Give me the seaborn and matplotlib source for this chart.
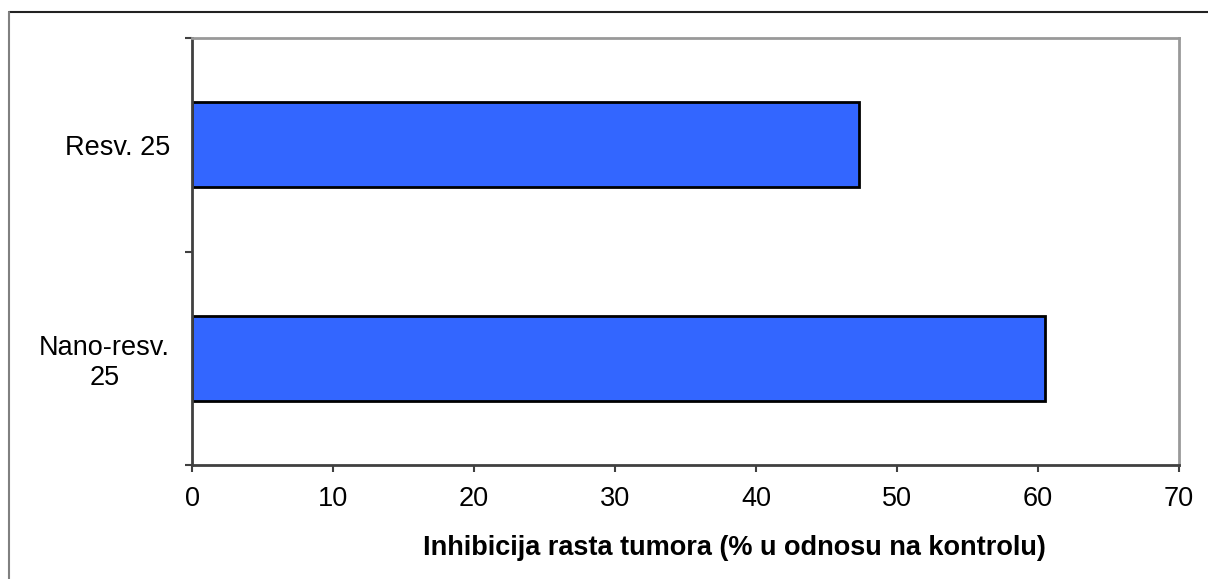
import matplotlib
matplotlib.use("Agg")
import matplotlib.pyplot as plt
import seaborn as sns
import pandas as pd
from matplotlib.lines import Line2D

categories = ["Resv. 25", "Nano-resv.\n25"]
values = [47.3, 60.5]
x_ticks = [0, 10, 20, 30, 40, 50, 60, 70]
x_label = "Inhibicija rasta tumora (% u odnosu na kontrolu)"

sns.set_theme(style="white")
plt.rcParams['font.family'] = ['Liberation Sans', 'DejaVu Sans']

df = pd.DataFrame({"cat": categories, "val": values})

fig = plt.figure(figsize=(12.08, 5.79), dpi=100)
ax = fig.add_axes([192/1208, 1 - 465/579, (1179-192)/1208, (465-38)/579])

sns.barplot(data=df, x="val", y="cat", orient="h", order=categories,
            color="#3366FF", saturation=1, width=0.4,
            edgecolor="black", linewidth=2, ax=ax)

fs = 19.5
ax.set_xlim(0, 70)
ax.set_ylim(1.5, -0.5)
ax.set_xticks(x_ticks)
ax.set_xticklabels([str(t) for t in x_ticks])
ax.set_yticks([0, 1])
ax.set_yticklabels(categories, ha="right", multialignment="center")
ax.set_yticks([-0.5, 0.5, 1.5], minor=True)
ax.tick_params(axis="y", which="major", length=0, pad=16, labelsize=fs, labelcolor="black")
ax.tick_params(axis="y", which="minor", length=5, width=1.5, color="#404040", direction="out", left=True)
ax.tick_params(axis="x", which="major", length=5, width=1.5, color="#404040", direction="out",
               bottom=True, pad=10, labelsize=fs, labelcolor="black")
ax.set_ylabel("")
ax.set_xlabel(x_label, fontsize=fs, fontweight="bold", color="black", labelpad=14)
ax.xaxis.set_label_coords(0.55, -0.165)

for s in ["left", "bottom"]:
    ax.spines[s].set_color("#404040")
    ax.spines[s].set_linewidth(2)
for s in ["top", "right"]:
    ax.spines[s].set_visible(True)
    ax.spines[s].set_color("#999999")
    ax.spines[s].set_linewidth(2)

fig.add_artist(Line2D([9/1208, 1.0], [1 - 12/579, 1 - 12/579], transform=fig.transFigure,
                      color="#222222", linewidth=1.5))
fig.add_artist(Line2D([9/1208, 9/1208], [0, 1 - 12/579], transform=fig.transFigure,
                      color="#808080", linewidth=1.5))

fig.savefig("out.png", dpi=100)
